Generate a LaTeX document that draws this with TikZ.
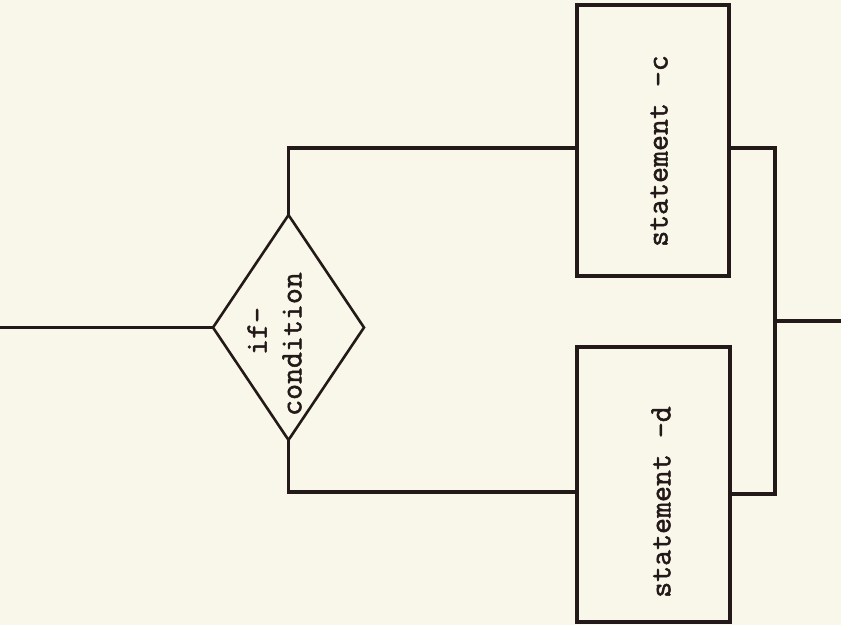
\documentclass[tikz,border=0pt]{standalone}
\usepackage{fontspec}
\newfontfamily\twfont{Latin Modern Mono}[FakeBold=1.6]
\usetikzlibrary{shapes.geometric}
\definecolor{paper}{RGB}{248,247,233}
\definecolor{ink}{RGB}{35,25,25}
\tikzset{
  wire/.style={draw=ink,line width=3.2pt,line join=miter},
  stbox/.style={draw=ink,line width=3.2pt,rectangle,inner sep=0pt,outer sep=0pt},
  decide/.style={draw=ink,line width=2.6pt,diamond,inner sep=0pt,outer sep=0pt,minimum width=151pt,minimum height=225pt},
  lbl/.style={rotate=90,inner sep=0pt,text=ink,font=\fontsize{31}{35}\selectfont\twfont}
}
\begin{document}
\begin{tikzpicture}[x=1pt,y=-1pt]
\fill[paper] (0,0) rectangle (841,625);
\useasboundingbox (0,0) rectangle (841,625);
% nodes
\node[decide] (dia) at (288.5,327.5) {};
\node[stbox,minimum width=152pt,minimum height=271pt] (bc) at (653,140.5) {};
\node[stbox,minimum width=153pt,minimum height=275pt] (bd) at (653.5,484.5) {};
\node[lbl] (tc) at (659,151) {statement -c};
\node[lbl] (td) at (661,502) {statement -d};
\node[lbl] (t1) at (257,331) {if-};
\node[lbl] (t2) at (292,344) {condition};
% coordinates
\coordinate (start) at (0,327.5);
\coordinate (cin) at (577,148);
\coordinate (din) at (577,492);
\coordinate (cout) at (729,148);
\coordinate (dout) at (730,494);
\coordinate (join) at (775,321);
\coordinate (finish) at (841,321);
% connectors
\draw[wire] (start) -- (dia.west);
\draw[wire] (dia.north) |- (cin);
\draw[wire] (dia.south) |- (din);
\draw[wire] (cout) -| (join |- dout) -- (dout);
\draw[wire] (join) -- (finish);
\end{tikzpicture}
\end{document}
